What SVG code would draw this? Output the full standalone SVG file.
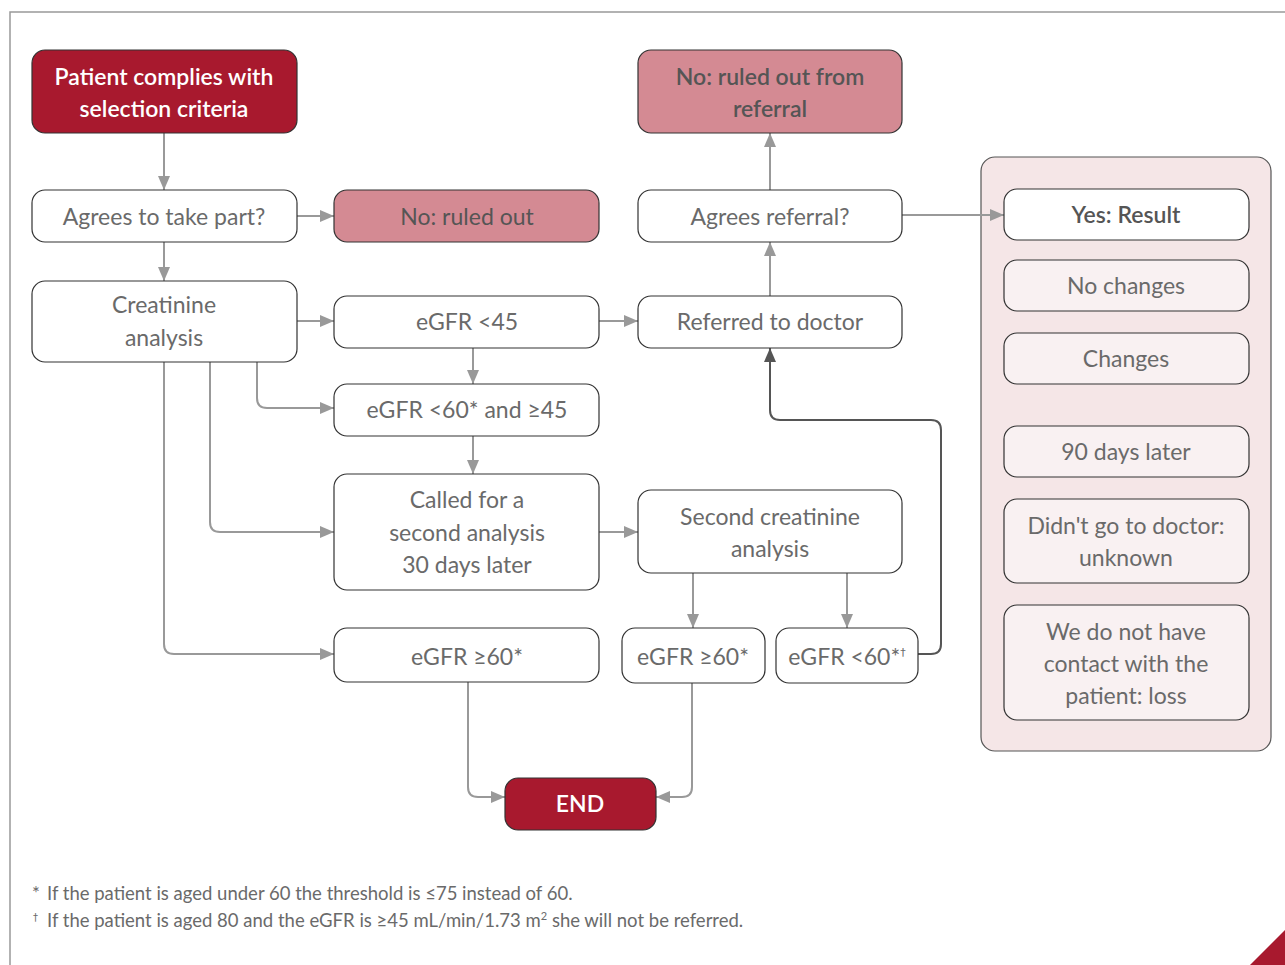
<svg xmlns="http://www.w3.org/2000/svg" width="1285" height="965" viewBox="0 0 1285 965">
<style>
.n{fill:#fff;stroke:#333;stroke-width:1.2}
.red{fill:#A8192E;stroke:#333;stroke-width:1.2}
.pink{fill:#D48A93;stroke:#333;stroke-width:1.2}
.lt{fill:#F9F1F2;stroke:#333;stroke-width:1.2}
.t{font-family:Lato,"Open Sans",sans-serif;font-weight:400;font-size:23px;fill:#6a6a6a;text-anchor:middle}
.tw{font-family:Lato,"Open Sans",sans-serif;font-weight:600;font-size:23px;fill:#fff;text-anchor:middle}
.tp{font-family:Lato,"Open Sans",sans-serif;font-weight:400;font-size:23px;fill:#555;text-anchor:middle}
.tb{font-family:Lato,"Open Sans",sans-serif;font-weight:600;font-size:23px;fill:#555;text-anchor:middle}
.c{fill:none;stroke:#999;stroke-width:2}
.cd{fill:none;stroke:#555;stroke-width:2}
.fn{font-family:Lato,"Open Sans",sans-serif;font-weight:400;font-size:18.5px;fill:#6a6a6a}
.sup{font-family:"DejaVu Sans",sans-serif;fill:#6a6a6a}
</style>
<defs>
<marker id="a" viewBox="0 0 14 12" refX="14" refY="6" markerWidth="14" markerHeight="12" markerUnits="userSpaceOnUse" orient="auto"><path d="M0,0 L14,6 L0,12 z" fill="#999"/></marker>
<marker id="ad" viewBox="0 0 14 12" refX="14" refY="6" markerWidth="14" markerHeight="12" markerUnits="userSpaceOnUse" orient="auto"><path d="M0,0 L14,6 L0,12 z" fill="#555"/></marker>
</defs>
<rect width="1285" height="965" fill="#fff"/>
<path d="M10,965 V12 H1285" fill="none" stroke="#999" stroke-width="1.5"/>
<polygon points="1250,965 1285,930 1285,965" fill="#A8192E"/>

<g id="panel"><rect x="981" y="157" width="290" height="594" rx="14" fill="#F5E6E7" stroke="#555" stroke-width="1.2"/></g>

<g id="connectors">
<path class="c" d="M164,133 V190" marker-end="url(#a)"/>
<path class="c" d="M297,216 H334" marker-end="url(#a)"/>
<path class="c" d="M164,242 V281" marker-end="url(#a)"/>
<path class="c" d="M297,321 H334" marker-end="url(#a)"/>
<path class="c" d="M599,321 H638" marker-end="url(#a)"/>
<path class="c" d="M473,348 V384" marker-end="url(#a)"/>
<path class="c" d="M257,362 V398 Q257,408 267,408 H334" marker-end="url(#a)"/>
<path class="c" d="M210,362 V522 Q210,532 220,532 H334" marker-end="url(#a)"/>
<path class="c" d="M164,362 V644 Q164,654 174,654 H334" marker-end="url(#a)"/>
<path class="c" d="M473,436 V474" marker-end="url(#a)"/>
<path class="c" d="M599,532 H638" marker-end="url(#a)"/>
<path class="c" d="M693,573 V628" marker-end="url(#a)"/>
<path class="c" d="M847,573 V628" marker-end="url(#a)"/>
<path class="cd" d="M918,654 H931 Q941,654 941,644 V430 Q941,420 931,420 H780 Q770,420 770,410 V348" marker-end="url(#ad)"/>
<path class="c" d="M770,296 V242" marker-end="url(#a)"/>
<path class="c" d="M770,190 V133" marker-end="url(#a)"/>
<path class="c" d="M902,215 H1004" marker-end="url(#a)"/>
<path class="c" d="M468,682 V787 Q468,797 478,797 H505" marker-end="url(#a)"/>
<path class="c" d="M692,683 V787 Q692,797 682,797 H656" marker-end="url(#a)"/>
</g>

<g id="start"><rect class="red" x="32" y="50" width="265" height="83" rx="13"/><text class="tw" x="164" y="85">Patient complies with</text><text class="tw" x="164" y="117">selection criteria</text></g>
<g id="agrees"><rect class="n" x="32" y="190" width="265" height="52" rx="13"/><text class="t" x="164" y="225">Agrees to take part?</text></g>
<g id="ruledout"><rect class="pink" x="334" y="190" width="265" height="52" rx="13"/><text class="tp" x="467" y="225">No: ruled out</text></g>
<g id="creatinine"><rect class="n" x="32" y="281" width="265" height="81" rx="13"/><text class="t" x="164" y="313">Creatinine</text><text class="t" x="164" y="346">analysis</text></g>
<g id="egfr45"><rect class="n" x="334" y="296" width="265" height="52" rx="13"/><text class="t" x="467" y="330">eGFR &lt;45</text></g>
<g id="egfr60_45"><rect class="n" x="334" y="384" width="265" height="52" rx="13"/><text class="t" x="467" y="418">eGFR &lt;60* and ≥45</text></g>
<g id="called"><rect class="n" x="334" y="474" width="265" height="116" rx="13"/><text class="t" x="467" y="508">Called for a</text><text class="t" x="467" y="541">second analysis</text><text class="t" x="467" y="573">30 days later</text></g>
<g id="egfr60a"><rect class="n" x="334" y="628" width="265" height="54" rx="13"/><text class="t" x="467" y="665">eGFR ≥60*</text></g>
<g id="second"><rect class="n" x="638" y="490" width="264" height="83" rx="13"/><text class="t" x="770" y="525">Second creatinine</text><text class="t" x="770" y="557">analysis</text></g>
<g id="egfr60b"><rect class="n" x="622" y="628" width="143" height="55" rx="13"/><text class="t" x="693" y="665">eGFR ≥60*</text></g>
<g id="egfr60c"><rect class="n" x="776" y="628" width="142" height="55" rx="13"/><text class="t" x="847" y="665">eGFR &lt;60*<tspan class="sup" font-size="11" dy="-9">†</tspan></text></g>
<g id="end"><rect class="red" x="505" y="778" width="151" height="52" rx="13"/><text class="tw" x="580" y="812">END</text></g>
<g id="ruledoutref"><rect class="pink" x="638" y="50" width="264" height="83" rx="13"/><text class="tb" x="770" y="85">No: ruled out from</text><text class="tb" x="770" y="117">referral</text></g>
<g id="agreesref"><rect class="n" x="638" y="190" width="264" height="52" rx="13"/><text class="t" x="770" y="225">Agrees referral?</text></g>
<g id="referred"><rect class="n" x="638" y="296" width="264" height="52" rx="13"/><text class="t" x="770" y="330">Referred to doctor</text></g>

<g id="yes"><rect class="n" x="1004" y="189" width="245" height="51" rx="13"/><text class="tb" x="1126" y="223">Yes: Result</text></g>
<g id="nochanges"><rect class="lt" x="1004" y="260" width="245" height="51" rx="13"/><text class="t" x="1126" y="294">No changes</text></g>
<g id="changes"><rect class="lt" x="1004" y="333" width="245" height="51" rx="13"/><text class="t" x="1126" y="367">Changes</text></g>
<g id="days90"><rect class="lt" x="1004" y="426" width="245" height="51" rx="13"/><text class="t" x="1126" y="460">90 days later</text></g>
<g id="didnt"><rect class="lt" x="1004" y="499" width="245" height="84" rx="13"/><text class="t" x="1126" y="534">Didn't go to doctor:</text><text class="t" x="1126" y="566">unknown</text></g>
<g id="loss"><rect class="lt" x="1004" y="605" width="245" height="115" rx="13"/><text class="t" x="1126" y="640">We do not have</text><text class="t" x="1126" y="672">contact with the</text><text class="t" x="1126" y="704">patient: loss</text></g>

<g id="footnotes">
<text class="fn" x="32" y="900">*<tspan x="47">If the patient is aged under 60 the threshold is ≤75 instead of 60.</tspan></text>
<text class="fn" x="47" y="927"><tspan class="sup" x="33" font-size="10" dy="-6">†</tspan><tspan x="47" dy="6">If the patient is aged 80 and the eGFR is ≥45 mL/min/1.73 m</tspan><tspan font-size="11" dy="-7">2</tspan><tspan dy="7"> she will not be referred.</tspan></text>
</g>
</svg>
